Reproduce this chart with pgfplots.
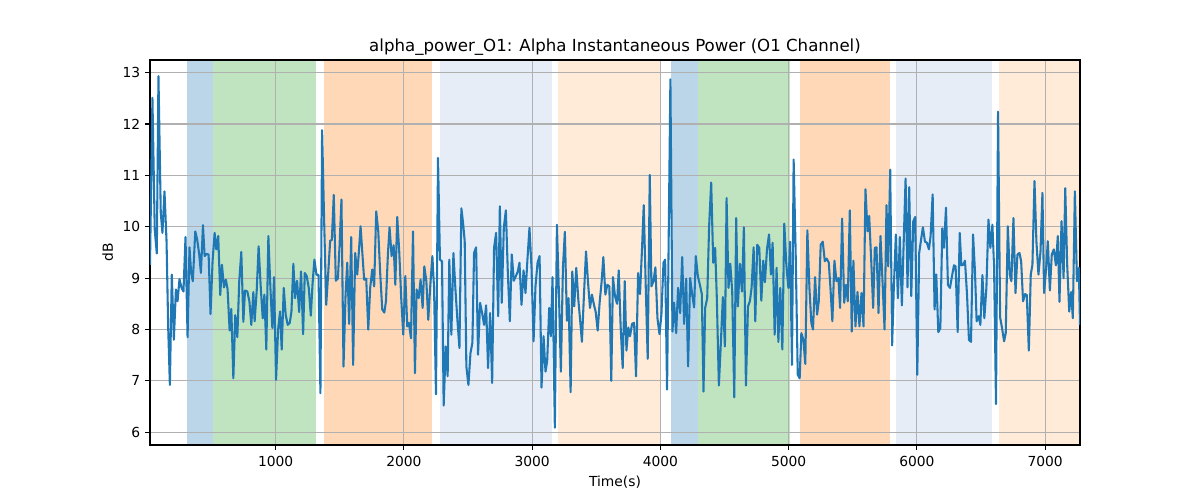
\documentclass[border=0pt]{standalone}
\usepackage{fontspec}
\setmainfont{DejaVu Sans}
\usepackage{pgfplots}
\usepackage{pgfplotstable}
\pgfplotsset{compat=1.18}
\definecolor{lineblue}{RGB}{31,119,180}
\definecolor{spanblue}{RGB}{188,214,233}
\definecolor{spangreen}{RGB}{192,227,192}
\definecolor{spanorange}{RGB}{255,217,183}
\definecolor{spanlblue}{RGB}{230,237,247}
\definecolor{spanlorange}{RGB}{255,235,215}
\definecolor{gridgray}{RGB}{176,176,176}
\pgfplotstableread{
x y
20 9.26
39 12.51
57 9.94
73 9.48
86 12.93
104 10.27
117 9.88
133 10.69
149 9.72
162 8.03
175 6.92
190 9.07
206 7.80
222 8.78
235 8.55
250 8.98
266 8.81
281 8.74
297 9.80
313 7.85
328 9.60
341 9.10
354 8.94
373 9.91
388 9.75
404 9.46
417 9.10
433 10.03
446 9.43
461 9.47
477 9.46
492 8.30
508 9.33
524 9.88
537 9.56
552 9.82
568 8.67
581 9.26
597 8.82
612 8.97
625 8.78
641 7.98
654 8.40
670 7.05
685 8.28
701 7.85
716 8.94
732 9.51
748 8.15
761 8.76
779 8.74
795 8.55
810 8.09
826 8.73
836 8.16
852 8.75
867 9.62
883 8.85
899 8.22
912 8.68
927 7.61
943 9.82
959 8.81
974 8.03
987 9.02
1003 7.02
1019 8.00
1034 8.35
1047 7.61
1063 8.81
1078 8.29
1094 8.09
1110 8.13
1123 8.35
1138 9.28
1151 8.61
1167 8.95
1183 8.34
1198 9.13
1214 7.91
1227 9.10
1242 9.04
1258 8.81
1274 8.27
1287 8.87
1302 9.36
1318 9.07
1334 9.06
1349 6.76
1362 11.88
1378 10.11
1394 8.48
1409 9.07
1425 9.73
1438 9.74
1453 10.62
1469 8.95
1485 8.99
1498 9.62
1513 10.53
1529 7.28
1545 8.68
1558 9.30
1573 8.11
1589 9.80
1604 7.31
1620 9.49
1636 9.07
1649 9.52
1662 10.01
1675 9.52
1690 8.97
1706 8.99
1722 8.00
1737 8.81
1753 9.17
1768 8.84
1784 10.30
1800 9.91
1815 9.10
1831 8.39
1847 8.33
1860 8.55
1875 9.46
1888 9.99
1904 9.43
1920 9.64
1933 8.87
1948 10.19
1964 9.49
1979 8.61
1995 7.90
2011 9.04
2026 8.06
2039 8.13
2055 7.83
2071 9.91
2086 7.15
2099 8.78
2115 8.61
2130 8.97
2146 8.42
2159 9.23
2175 8.94
2190 8.19
2206 8.87
2222 9.43
2235 8.81
2250 6.74
2266 11.34
2281 9.36
2297 9.33
2310 6.52
2326 7.67
2341 7.09
2354 9.36
2370 7.90
2386 9.49
2401 8.81
2417 8.19
2433 7.64
2448 10.36
2461 10.08
2474 9.72
2487 7.28
2503 6.92
2519 7.54
2534 7.74
2547 9.49
2563 9.60
2578 7.51
2594 8.52
2610 8.32
2625 8.09
2641 8.47
2656 7.25
2672 8.32
2688 6.96
2703 9.59
2719 9.88
2735 8.26
2748 10.40
2763 8.52
2779 9.98
2795 10.32
2810 9.13
2826 8.16
2841 9.46
2857 8.95
2873 9.04
2888 9.13
2901 9.30
2917 8.48
2933 9.15
2948 8.71
2964 9.39
2979 9.98
2995 9.20
3011 7.77
3026 8.84
3042 9.30
3058 9.43
3073 6.87
3089 7.87
3104 7.18
3117 7.38
3133 8.42
3146 7.87
3159 9.02
3177 6.09
3193 10.04
3209 8.68
3224 7.18
3240 9.20
3255 9.90
3271 8.17
3284 8.61
3300 6.78
3313 9.13
3328 8.45
3344 9.20
3360 8.58
3375 8.16
3388 7.76
3404 8.68
3420 9.52
3435 8.94
3451 8.42
3466 8.68
3482 8.48
3495 8.35
3511 7.98
3526 8.52
3542 8.94
3555 9.41
3571 8.68
3586 8.87
3602 8.84
3617 7.00
3630 9.02
3646 8.65
3662 8.50
3675 9.15
3690 8.06
3706 7.25
3722 8.94
3735 7.59
3750 8.04
3763 7.87
3779 8.11
3795 8.13
3810 7.09
3826 9.10
3841 8.69
3857 9.59
3870 10.42
3886 8.81
3901 7.43
3917 11.01
3930 8.84
3946 8.94
3961 9.21
3977 8.22
3993 7.91
4008 8.29
4024 9.30
4037 9.36
4052 6.83
4078 12.87
4094 7.96
4107 8.52
4123 7.93
4138 8.81
4154 8.32
4170 9.41
4185 8.11
4201 8.99
4216 7.28
4232 9.00
4248 8.68
4263 8.43
4276 9.43
4292 9.04
4308 8.87
4323 8.69
4336 6.79
4349 8.42
4365 8.61
4380 10.01
4396 10.86
4412 9.30
4427 9.59
4440 8.61
4456 6.91
4472 7.77
4487 8.63
4503 7.67
4516 10.56
4531 8.81
4545 9.28
4560 8.74
4576 6.68
4591 10.17
4604 8.45
4620 9.28
4636 8.74
4651 9.99
4667 6.91
4683 8.45
4698 8.55
4711 8.81
4727 9.60
4740 8.16
4755 9.65
4771 9.59
4787 8.56
4802 9.34
4815 8.92
4831 9.56
4847 9.85
4862 9.07
4875 9.69
4891 7.90
4906 9.20
4920 7.76
4935 8.81
4951 7.61
4966 10.06
4982 9.26
4998 8.81
5011 9.71
5026 7.31
5039 11.31
5055 9.46
5071 7.12
5086 7.05
5099 7.93
5115 7.80
5130 7.33
5146 9.93
5162 8.81
5177 8.13
5190 8.00
5206 9.02
5222 8.29
5235 8.55
5250 9.65
5266 9.71
5282 9.33
5297 9.38
5313 9.30
5326 8.81
5341 8.16
5357 9.34
5373 8.94
5388 9.00
5401 8.42
5417 10.16
5433 8.52
5448 8.87
5461 8.55
5477 10.32
5492 7.96
5505 9.34
5521 8.06
5537 8.73
5552 8.06
5568 8.71
5584 8.06
5599 10.73
5615 9.91
5628 10.21
5644 9.34
5659 8.42
5672 9.59
5685 9.60
5701 8.32
5716 9.82
5732 8.94
5748 8.00
5763 10.42
5776 9.23
5792 11.11
5807 7.69
5820 8.80
5836 9.85
5852 8.61
5867 9.80
5883 8.47
5896 9.60
5912 10.94
5927 8.82
5940 10.77
5956 8.65
5972 10.11
5987 10.19
6003 7.12
6018 9.49
6031 9.72
6047 9.99
6063 9.71
6078 9.69
6094 9.56
6107 9.82
6123 10.63
6138 8.39
6151 9.07
6167 7.95
6183 8.03
6198 9.97
6211 9.59
6227 10.37
6242 8.87
6258 8.81
6274 9.04
6289 9.25
6302 9.23
6318 7.95
6334 9.88
6347 9.25
6362 9.26
6375 9.34
6391 8.68
6406 7.80
6422 7.76
6438 9.85
6453 9.13
6466 8.16
6482 8.26
6495 8.09
6511 9.06
6526 8.22
6542 8.81
6558 10.14
6573 9.59
6589 10.04
6602 9.20
6617 6.55
6633 12.24
6649 8.24
6664 8.03
6680 7.77
6693 7.93
6709 10.01
6724 9.07
6737 8.94
6753 10.17
6769 8.71
6784 9.46
6800 9.49
6813 9.33
6828 8.55
6844 8.69
6857 8.67
6873 7.59
6888 9.07
6901 9.26
6917 10.89
6932 9.72
6948 9.07
6964 9.52
6979 10.66
6992 8.71
7008 9.20
7021 9.72
7037 8.76
7052 9.46
7068 9.56
7084 9.25
7099 9.82
7112 8.54
7128 10.11
7144 9.00
7157 10.75
7172 9.26
7188 8.35
7203 8.73
7216 8.22
7232 10.69
7248 8.94
7263 9.20
7272 8.09
}\datatable
\begin{document}
\begin{tikzpicture}
\begin{axis}[
  set layers,
  at={(0,0)}, anchor=south west,
  width=672.1pt, height=278.24pt, scale only axis,
  xmin=20, xmax=7272, ymin=5.752, ymax=13.246,
  xtick={1000,2000,3000,4000,5000,6000,7000},
  ytick={6,7,8,9,10,11,12,13},
  xtick pos=bottom, ytick pos=left,
  tick align=outside,
  major tick length=3.5pt,
  every tick/.style={black, line width=0.8pt},
  axis line style={line width=0.8pt, black},
  grid=major,
  grid style={color=gridgray, line width=0.8pt},
  /pgf/number format/assume math mode=true,
  /pgf/number format/1000 sep={},
  ticklabel style={font=\fontsize{10}{12}\selectfont},
  xticklabel style={yshift=-1pt},
  label style={font=\fontsize{10}{12}\selectfont},
  xlabel={Time(s)},
  ylabel={dB},
  title={alpha\_power\_O1: Alpha Instantaneous Power (O1 Channel)},
  title style={at={(0.5,1)}, anchor=base, font=\fontsize{12}{14}\selectfont},
]
\addplot[draw=none, fill=spanblue, on layer=axis background] coordinates {(305,5.752) (511,5.752) (511,13.246) (305,13.246)} -- cycle;
\addplot[draw=none, fill=spangreen, on layer=axis background] coordinates {(511,5.752) (1316,5.752) (1316,13.246) (511,13.246)} -- cycle;
\addplot[draw=none, fill=spanorange, on layer=axis background] coordinates {(1380,5.752) (2222,5.752) (2222,13.246) (1380,13.246)} -- cycle;
\addplot[draw=none, fill=spanlblue, on layer=axis background] coordinates {(2279,5.752) (3152,5.752) (3152,13.246) (2279,13.246)} -- cycle;
\addplot[draw=none, fill=spanlorange, on layer=axis background] coordinates {(3198,5.752) (4003,5.752) (4003,13.246) (3198,13.246)} -- cycle;
\addplot[draw=none, fill=spanblue, on layer=axis background] coordinates {(4084,5.752) (4297,5.752) (4297,13.246) (4084,13.246)} -- cycle;
\addplot[draw=none, fill=spangreen, on layer=axis background] coordinates {(4297,5.752) (5011,5.752) (5011,13.246) (4297,13.246)} -- cycle;
\addplot[draw=none, fill=spanorange, on layer=axis background] coordinates {(5091,5.752) (5792,5.752) (5792,13.246) (5091,13.246)} -- cycle;
\addplot[draw=none, fill=spanlblue, on layer=axis background] coordinates {(5834,5.752) (6589,5.752) (6589,13.246) (5834,13.246)} -- cycle;
\addplot[draw=none, fill=spanlorange, on layer=axis background] coordinates {(6638,5.752) (7272,5.752) (7272,13.246) (6638,13.246)} -- cycle;
\addplot[lineblue, line width=1.5pt, line join=round, mark=none] table[x=x,y=y] {\datatable};
\end{axis}
\pgfresetboundingbox
\path[use as bounding box] (-108.4pt,-39.75pt) rectangle (758.82pt,321.6pt);
\end{tikzpicture}
\end{document}
